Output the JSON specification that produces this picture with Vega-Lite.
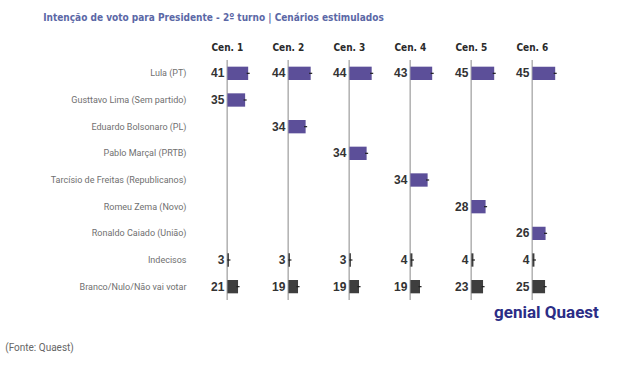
{
  "$schema": "https://vega.github.io/schema/vega-lite/v6.json",
  "background": "white",
  "padding": {"left": 5, "top": 13, "right": 5, "bottom": 5},
  "title": {
    "text": "Intenção de voto para Presidente - 2º turno | Cenários estimulados",
    "anchor": "start",
    "frame": "bounds",
    "font": "DejaVu Sans Condensed, Roboto",
    "fontSize": 10,
    "fontWeight": "bold",
    "color": "#5b68a6",
    "dx": 38,
    "offset": 20
  },
  "vconcat": [
    {
      "title": {
        "text": "(Fonte: Quaest)",
        "orient": "bottom",
        "anchor": "start",
        "frame": "bounds",
        "font": "Roboto",
        "fontSize": 10,
        "fontWeight": "normal",
        "color": "#666666",
        "dx": -45,
        "offset": 22
      },
      "vconcat": [
        {
          "title": {
            "text": "genial   Quaest",
            "orient": "bottom",
            "anchor": "end",
            "frame": "bounds",
            "font": "Roboto",
            "fontSize": 17,
            "fontWeight": "bold",
            "color": "#2b2d86",
            "dx": 36,
            "offset": 4
          },
          "data": {
            "values": [
              {"cen": "Cen. 1", "cand": "Lula (PT)", "v": 41, "lo": 38, "hi": 44, "tipo": "cand"},
              {"cen": "Cen. 1", "cand": "Gusttavo Lima (Sem partido)", "v": 35, "lo": 32, "hi": 38, "tipo": "cand"},
              {"cen": "Cen. 1", "cand": "Indecisos", "v": 3, "lo": 0, "hi": 6, "tipo": "outro"},
              {"cen": "Cen. 1", "cand": "Branco/Nulo/Não vai votar", "v": 21, "lo": 18, "hi": 24, "tipo": "outro"},
              {"cen": "Cen. 2", "cand": "Lula (PT)", "v": 44, "lo": 41, "hi": 47, "tipo": "cand"},
              {"cen": "Cen. 2", "cand": "Eduardo Bolsonaro (PL)", "v": 34, "lo": 31, "hi": 37, "tipo": "cand"},
              {"cen": "Cen. 2", "cand": "Indecisos", "v": 3, "lo": 0, "hi": 6, "tipo": "outro"},
              {"cen": "Cen. 2", "cand": "Branco/Nulo/Não vai votar", "v": 19, "lo": 16, "hi": 22, "tipo": "outro"},
              {"cen": "Cen. 3", "cand": "Lula (PT)", "v": 44, "lo": 41, "hi": 47, "tipo": "cand"},
              {"cen": "Cen. 3", "cand": "Pablo Marçal (PRTB)", "v": 34, "lo": 31, "hi": 37, "tipo": "cand"},
              {"cen": "Cen. 3", "cand": "Indecisos", "v": 3, "lo": 0, "hi": 6, "tipo": "outro"},
              {"cen": "Cen. 3", "cand": "Branco/Nulo/Não vai votar", "v": 19, "lo": 16, "hi": 22, "tipo": "outro"},
              {"cen": "Cen. 4", "cand": "Lula (PT)", "v": 43, "lo": 40, "hi": 46, "tipo": "cand"},
              {"cen": "Cen. 4", "cand": "Tarcísio de Freitas (Republicanos)", "v": 34, "lo": 31, "hi": 37, "tipo": "cand"},
              {"cen": "Cen. 4", "cand": "Indecisos", "v": 4, "lo": 1, "hi": 7, "tipo": "outro"},
              {"cen": "Cen. 4", "cand": "Branco/Nulo/Não vai votar", "v": 19, "lo": 16, "hi": 22, "tipo": "outro"},
              {"cen": "Cen. 5", "cand": "Lula (PT)", "v": 45, "lo": 42, "hi": 48, "tipo": "cand"},
              {"cen": "Cen. 5", "cand": "Romeu Zema (Novo)", "v": 28, "lo": 25, "hi": 31, "tipo": "cand"},
              {"cen": "Cen. 5", "cand": "Indecisos", "v": 4, "lo": 1, "hi": 7, "tipo": "outro"},
              {"cen": "Cen. 5", "cand": "Branco/Nulo/Não vai votar", "v": 23, "lo": 20, "hi": 26, "tipo": "outro"},
              {"cen": "Cen. 6", "cand": "Lula (PT)", "v": 45, "lo": 42, "hi": 48, "tipo": "cand"},
              {"cen": "Cen. 6", "cand": "Ronaldo Caiado (União)", "v": 26, "lo": 23, "hi": 29, "tipo": "cand"},
              {"cen": "Cen. 6", "cand": "Indecisos", "v": 4, "lo": 1, "hi": 7, "tipo": "outro"},
              {"cen": "Cen. 6", "cand": "Branco/Nulo/Não vai votar", "v": 25, "lo": 22, "hi": 28, "tipo": "outro"}
            ]
          },
          "facet": {
            "column": {
              "field": "cen",
              "type": "nominal",
              "header": {
                "title": null,
                "labelFont": "DejaVu Sans Condensed, Roboto",
                "labelFontSize": 10,
                "labelFontWeight": "bold",
                "labelColor": "#2a2a2a",
                "labelPadding": 6
              }
            }
          },
          "spacing": 0,
          "resolve": {"scale": {"x": "shared", "y": "shared"}},
          "spec": {
            "width": 60.8,
            "height": 240,
            "encoding": {
              "y": {
                "field": "cand",
                "type": "nominal",
                "sort": [
                  "Lula (PT)",
                  "Gusttavo Lima (Sem partido)",
                  "Eduardo Bolsonaro (PL)",
                  "Pablo Marçal (PRTB)",
                  "Tarcísio de Freitas (Republicanos)",
                  "Romeu Zema (Novo)",
                  "Ronaldo Caiado (União)",
                  "Indecisos",
                  "Branco/Nulo/Não vai votar"
                ],
                "scale": {
                  "domain": [
                    "Lula (PT)",
                    "Gusttavo Lima (Sem partido)",
                    "Eduardo Bolsonaro (PL)",
                    "Pablo Marçal (PRTB)",
                    "Tarcísio de Freitas (Republicanos)",
                    "Romeu Zema (Novo)",
                    "Ronaldo Caiado (União)",
                    "Indecisos",
                    "Branco/Nulo/Não vai votar"
                  ],
                  "paddingInner": 0.5,
                  "paddingOuter": 0.25
                },
                "axis": {
                  "title": null,
                  "ticks": false,
                  "domain": false,
                  "labelFont": "Roboto",
                  "labelFontSize": 9,
                  "labelColor": "#707070",
                  "labelPadding": 11
                }
              }
            },
            "layer": [
              {
                "mark": {"type": "rule", "color": "#b5b5b5", "strokeWidth": 1.2},
                "encoding": {
                  "y": null,
                  "x": {"datum": 0, "type": "quantitative", "scale": {"domain": [-53, 53]}, "axis": null}
                }
              },
              {
                "mark": {"type": "bar"},
                "encoding": {
                  "x": {"field": "v", "type": "quantitative", "scale": {"domain": [-53, 53]}, "axis": null},
                  "x2": {"datum": 0},
                  "color": {
                    "field": "tipo",
                    "type": "nominal",
                    "scale": {"domain": ["cand", "outro"], "range": ["#5c4f99", "#3e3e3e"]},
                    "legend": null
                  }
                }
              },
              {
                "mark": {"type": "rule", "color": "#1e1e1e", "strokeWidth": 1.2},
                "encoding": {
                  "x": {"field": "lo", "type": "quantitative"},
                  "x2": {"field": "hi"}
                }
              },
              {
                "mark": {"type": "text", "align": "right", "baseline": "middle", "dx": -3, "font": "Liberation Sans", "fontSize": 12, "fontWeight": "bold", "color": "#333333"},
                "encoding": {
                  "x": {"datum": 0, "type": "quantitative"},
                  "text": {"field": "v", "type": "quantitative"}
                }
              }
            ]
          }
        }
      ]
    }
  ],
  "config": {
    "view": {"stroke": null},
    "concat": {"spacing": 0}
  }
}
